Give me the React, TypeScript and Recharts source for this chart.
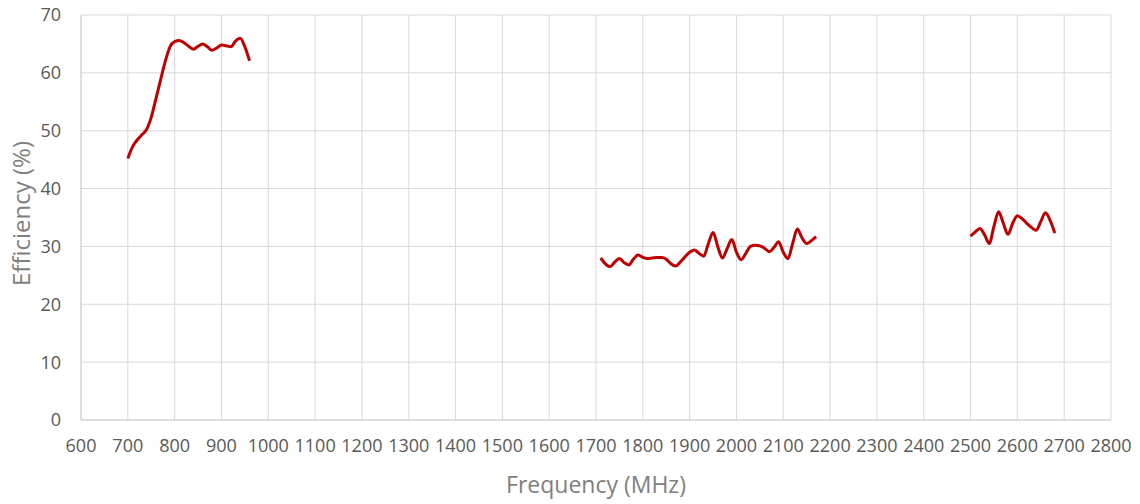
import React from 'react'
import {
  LineChart,
  Line,
  XAxis,
  YAxis,
  CartesianGrid
} from 'recharts'

// frequency (MHz) and efficiency (%) per band
const lowBandFreq = [700, 710, 720, 730, 740, 750, 760, 770, 780, 790, 800, 810, 820, 830, 840, 850, 860, 870, 880, 890, 900, 910, 920, 930, 940, 950, 960]
const lowBandEff = [45.2, 47.2, 48.4, 49.3, 50.2, 52.3, 55.5, 58.8, 62.0, 64.5, 65.4, 65.6, 65.2, 64.6, 64.1, 64.6, 65.0, 64.5, 63.9, 64.3, 64.8, 64.7, 64.5, 65.5, 66.0, 64.5, 62.1]

const midBandFreq = [1710, 1720, 1730, 1740, 1750, 1760, 1770, 1780, 1790, 1800, 1810, 1820, 1830, 1840, 1850, 1860, 1870, 1880, 1890, 1900, 1910, 1920, 1930, 1940, 1950, 1960, 1970, 1980, 1990, 2000, 2010, 2020, 2030, 2040, 2050, 2060, 2070, 2080, 2090, 2100, 2110, 2120, 2130, 2140, 2150, 2160, 2170]
const midBandEff = [28.0, 27.0, 26.5, 27.3, 27.9, 27.2, 26.8, 27.8, 28.5, 28.1, 27.9, 28.0, 28.1, 28.1, 27.8, 27.0, 26.6, 27.3, 28.2, 29.0, 29.4, 28.8, 28.3, 30.5, 32.4, 30.0, 28.0, 29.6, 31.2, 29.0, 27.7, 28.8, 30.0, 30.2, 30.1, 29.7, 29.1, 29.8, 30.8, 29.0, 27.9, 30.5, 33.0, 31.5, 30.5, 31.0, 31.7]

const highBandFreq = [2500, 2510, 2520, 2530, 2540, 2550, 2560, 2570, 2580, 2590, 2600, 2610, 2620, 2630, 2640, 2650, 2660, 2670, 2680]
const highBandEff = [31.8, 32.5, 33.1, 32.0, 30.5, 33.5, 36.0, 34.0, 32.1, 34.0, 35.3, 34.8, 34.0, 33.3, 32.8, 34.3, 35.8, 34.5, 32.3]

const xTicks = [600, 700, 800, 900, 1000, 1100, 1200, 1300, 1400, 1500, 1600, 1700, 1800, 1900, 2000, 2100, 2200, 2300, 2400, 2500, 2600, 2700, 2800]
const yTicks = [0, 10, 20, 30, 40, 50, 60, 70]

const toPoints = (freq: number[], eff: number[]) =>
  freq.map((f, i) => ({ freq: f, eff: eff[i] }))

const bands = [
  toPoints(lowBandFreq, lowBandEff),
  toPoints(midBandFreq, midBandEff),
  toPoints(highBandFreq, highBandEff)
]

const FONT = '"Open Sans", sans-serif'

const App = () => {
  return (
    <div style={{ width: 1140, height: 504, background: '#fff' }}>
      <style>{'body{margin:0}'}</style>
      <LineChart
        width={1140}
        height={504}
        margin={{ top: 15, right: 29, bottom: 0, left: 0 }}
        style={{ fontFamily: FONT }}
      >
        <CartesianGrid
          stroke="#d9d9d9"
          strokeWidth={1}
          horizontalValues={yTicks}
          verticalValues={xTicks}
        />
        <XAxis
          type="number"
          dataKey="freq"
          domain={[600, 2800]}
          ticks={xTicks}
          interval={0}
          allowDuplicatedCategory={false}
          height={84}
          tickLine={false}
          tickSize={0}
          tickMargin={19}
          axisLine={{ stroke: '#d0d0d0' }}
          tick={{ fill: '#595959', fontSize: 18, fontFamily: FONT }}
          label={{
            value: 'Frequency (MHz)',
            position: 'insideBottom',
            offset: 11,
            fill: '#7f7f7f',
            fontSize: 23,
            fontFamily: FONT
          }}
        />
        <YAxis
          type="number"
          domain={[0, 70]}
          ticks={yTicks}
          interval={0}
          width={81}
          tickLine={false}
          tickSize={0}
          tickMargin={20}
          axisLine={{ stroke: '#d0d0d0' }}
          tick={{ fill: '#595959', fontSize: 18, fontFamily: FONT }}
          label={{
            value: 'Efficiency (%)',
            angle: -90,
            position: 'insideLeft',
            offset: 21,
            dy: -4,
            fill: '#7f7f7f',
            fontSize: 24,
            fontFamily: FONT,
            style: { textAnchor: 'middle' }
          }}
        />
        {bands.map((band, i) => (
          <Line
            key={i}
            data={band}
            dataKey="eff"
            type="monotone"
            stroke="#c00000"
            strokeWidth={3}
            dot={false}
            activeDot={false}
            isAnimationActive={false}
          />
        ))}
      </LineChart>
    </div>
  )
}

export default App
